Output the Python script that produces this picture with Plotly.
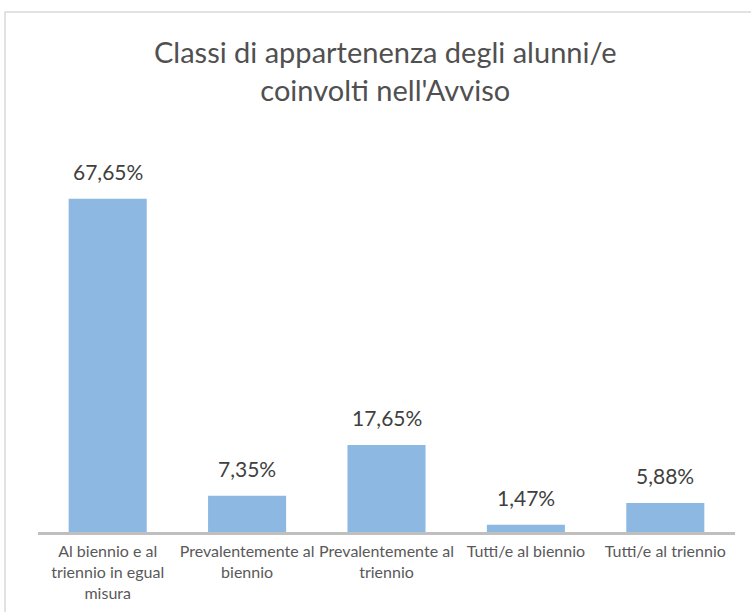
import plotly.graph_objects as go

categories = [
    "Al biennio e al<br>triennio in egual<br>misura",
    "Prevalentemente al<br>biennio",
    "Prevalentemente al<br>triennio",
    "Tutti/e al biennio",
    "Tutti/e al triennio",
]
values = [67.65, 7.35, 17.65, 1.47, 5.88]
value_labels = ["67,65%", "7,35%", "17,65%", "1,47%", "5,88%"]
title_text = "Classi di appartenenza degli alunni/e<br>coinvolti nell'Avviso"

W, H = 751, 612
ML, MR, MT, MB = 38, 16, 138, 80
pw = W - ML - MR
ph = H - MT - MB

fig = go.Figure()
fig.add_trace(go.Bar(
    x=categories, y=values,
    marker=dict(color="#8DB8E2", line=dict(width=0)),
    hoverinfo="skip",
))

for c, v, lab in zip(categories, values, value_labels):
    fig.add_annotation(
        x=c, y=v, text=lab, showarrow=False,
        yanchor="bottom", yshift=13,
        font=dict(family="Lato", size=21, color="#404040"),
    )

# outer chart border
fig.add_shape(
    type="rect", xref="paper", yref="paper",
    x0=(5 - ML) / pw, x1=(752 - ML) / pw,
    y0=(MT + ph - 614) / ph, y1=(MT + ph - 12) / ph,
    line=dict(color="#D9D9D9", width=1.5), fillcolor="rgba(0,0,0,0)",
    layer="below",
)

fig.update_layout(
    width=W, height=H,
    margin=dict(l=ML, r=MR, t=MT, b=MB, autoexpand=False),
    paper_bgcolor="white", plot_bgcolor="white",
    bargap=0.44,
    showlegend=False,
    title=dict(
        text=title_text, x=0.513, xanchor="center",
        y=1 - 63 / H, yanchor="top",
        font=dict(family="Lato", size=29, color="#505050"),
    ),
    xaxis=dict(
        showline=True, linecolor="#BFBFBF", linewidth=2.5,
        ticks="", showgrid=False, tickangle=0, automargin=False,
        ticklabelstandoff=3,
        tickfont=dict(family="Lato", size=16, color="#595959"),
    ),
    yaxis=dict(
        range=[0, 80], visible=False, showgrid=False, zeroline=False,
        automargin=False,
    ),
)

fig.write_html(
    "out.html",
    config={"displayModeBar": False},
    post_script="document.body.style.margin='0';document.body.style.overflow='hidden';",
)
